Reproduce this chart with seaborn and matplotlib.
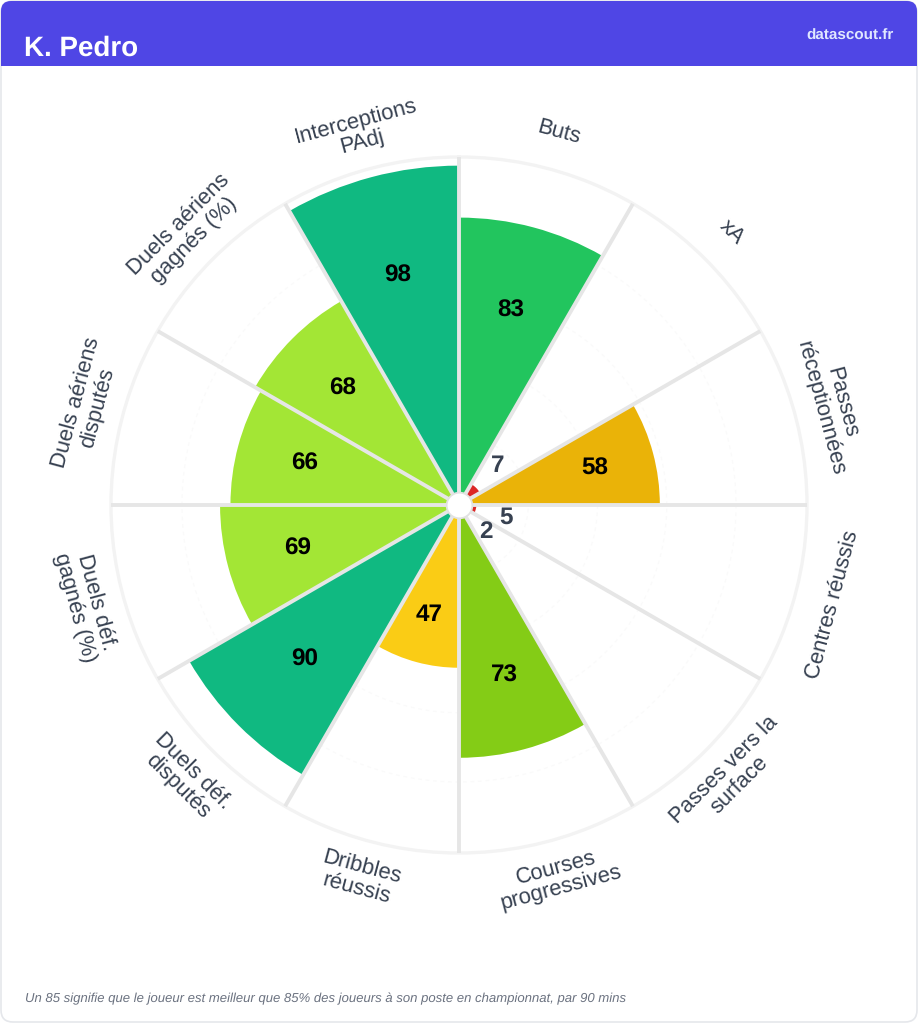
import numpy as np
import pandas as pd
import seaborn as sns
import matplotlib
matplotlib.use('Agg')
import matplotlib.pyplot as plt
from matplotlib.patches import FancyBboxPatch, Rectangle

metrics = ['Buts', 'xA', 'Passes\nréceptionnées', 'Centres réussis', 'Passes vers la\nsurface',
           'Courses\nprogressives', 'Dribbles\nréussis', 'Duels déf.\ndisputés', 'Duels déf.\ngagnés (%)',
           'Duels aériens\ndisputés', 'Duels aériens\ngagnés (%)', 'Interceptions\nPAdj']
values = [83, 7, 58, 5, 2, 73, 47, 90, 69, 66, 68, 98]
colors = ['#22c55e', '#dc2626', '#eab308', '#dc2626', '#dc2626', '#84cc16',
          '#facc15', '#10b981', '#a3e635', '#a3e635', '#a3e635', '#10b981']
player = 'K. Pedro'
site = 'datascout.fr'
note = 'Un 85 signifie que le joueur est meilleur que 85% des joueurs à son poste en championnat, par 90 mins'

W, H = 918, 1024
sns.set_theme(style='white')
plt.rcParams['font.family'] = ['Liberation Sans', 'DejaVu Sans']
plt.rcParams['text.hinting'] = 'no_hinting'

fig = plt.figure(figsize=(W / 100, H / 100), dpi=100, facecolor='white')

# card + header, in pixel coords
bg = fig.add_axes([0, 0, 1, 1], zorder=0)
bg.set_xlim(0, W)
bg.set_ylim(H, 0)
bg.axis('off')
bg.add_patch(FancyBboxPatch((1, 1), W - 2, H - 3, boxstyle='round,pad=0,rounding_size=12',
                            fc='white', ec='#e5e7eb', lw=1.2))
bg.add_patch(FancyBboxPatch((1, 1), W - 2, 40, boxstyle='round,pad=0,rounding_size=10',
                            fc='#4f46e5', ec='none'))
bg.add_patch(Rectangle((1, 20), W - 2, 45.5, fc='#4f46e5', ec='none'))
bg.text(24, 48, player, color='white', fontsize=20, fontweight='bold', va='center', ha='left')
bg.text(894, 35.5, site, color='#e0e7ff', fontsize=11, fontweight='bold', va='center', ha='right')
bg.text(25, 999, note, color='#6b7280', fontsize=9.47, style='italic', va='center', ha='left')

# polar chart, centre (459, 505), radius 348 px
R = 348
ax = fig.add_axes([(459 - R) / W, (H - 505 - R) / H, 2 * R / W, 2 * R / H],
                  projection='polar', zorder=1)
ax.patch.set_alpha(0)
ax.set_theta_zero_location('N')
ax.set_theta_direction(-1)

step = 2 * np.pi / len(metrics)
mids = (np.arange(len(metrics)) + 0.5) * step
df = pd.DataFrame({'theta': mids, 'value': values, 'metric': metrics})
sns.barplot(data=df, x='theta', y='value', hue='metric', palette=dict(zip(metrics, colors)),
            native_scale=True, dodge=False, width=1, linewidth=0, saturation=1, legend=False,
            ax=ax, zorder=2)

rmax = 100.5
ax.set_xlim(0, 2 * np.pi)
ax.set_ylim(0, rmax)
ax.set_xlabel('')
ax.set_ylabel('')
ax.set_xticks([])
ax.set_yticks([20, 40, 60, 80])
ax.set_yticklabels([])
ax.set_axisbelow(True)
ax.yaxis.grid(True, color='#fafafa', lw=0.9, ls=(0, (3, 3)))
ax.spines['polar'].set_color('#f3f3f3')
ax.spines['polar'].set_linewidth(2.4)

# spokes
spokes = np.arange(len(metrics)) * step
ax.vlines(spokes, 0, rmax, color='#e6e6e6', lw=2.8, zorder=3)
ax.plot([0], [0], 'o', ms=18.5, mfc='white', mec='#e2e2e2', mew=1.3, zorder=5, clip_on=False)

# labels around the outside and values inside the bars
for name, v, th in zip(metrics, values, mids):
    deg = np.degrees(th)
    rot = -deg if (deg < 90 or deg > 270) else 180 - deg
    ax.text(th, 111.5, name, rotation=rot, rotation_mode='anchor', ha='center', va='center',
            fontsize=15.8, color='#374151', linespacing=1.03, clip_on=False, zorder=6)
    if v < 10:
        ax.text(th, v + 9, str(v), ha='center', va='center', fontsize=17.5, fontweight='bold',
                color='#374151', zorder=6)
    else:
        ax.text(th, v * 0.7, str(v), ha='center', va='center', fontsize=17.5, fontweight='bold',
                color='black', zorder=6)

fig.savefig('out.png', dpi=100, facecolor='white')
